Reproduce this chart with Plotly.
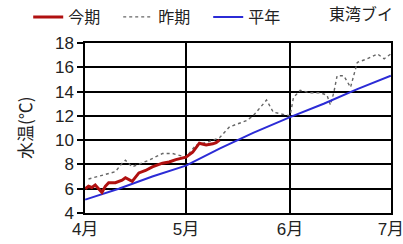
import plotly.graph_objects as go

# 今期 (current season)
cur_dates = ["2023-04-01", "2023-04-02", "2023-04-03", "2023-04-04", "2023-04-05", "2023-04-06",
             "2023-04-07", "2023-04-08", "2023-04-10", "2023-04-12", "2023-04-13", "2023-04-15",
             "2023-04-17", "2023-04-19", "2023-04-21", "2023-04-24", "2023-04-26", "2023-04-28",
             "2023-05-01", "2023-05-03", "2023-05-05", "2023-05-07", "2023-05-09", "2023-05-10",
             "2023-05-11"]
cur_vals = [6.0, 6.2, 6.1, 6.3, 6.0, 5.7,
            6.2, 6.5, 6.5, 6.7, 6.9, 6.6,
            7.3, 7.5, 7.8, 8.1, 8.2, 8.4,
            8.6, 9.0, 9.75, 9.6, 9.7, 9.8,
            10.0]

# 昨期 (previous season)
prev_dates = ["2023-04-02", "2023-04-06", "2023-04-10", "2023-04-12", "2023-04-13", "2023-04-15",
              "2023-04-20", "2023-04-24", "2023-04-27", "2023-05-01", "2023-05-04", "2023-05-07",
              "2023-05-11", "2023-05-14", "2023-05-19", "2023-05-21", "2023-05-25", "2023-05-27",
              "2023-06-01", "2023-06-02", "2023-06-04", "2023-06-07", "2023-06-10", "2023-06-12",
              "2023-06-13", "2023-06-14", "2023-06-15", "2023-06-17", "2023-06-19", "2023-06-21",
              "2023-06-24", "2023-06-27", "2023-06-29", "2023-07-01"]
prev_vals = [6.8, 7.1, 7.4, 8.1, 8.35, 7.8,
             8.35, 8.9, 8.9, 8.6, 9.6, 9.8,
             10.2, 11.1, 11.6, 12.0, 13.3, 12.3,
             12.0, 13.5, 14.1, 13.9, 13.9, 13.7,
             12.9, 13.9, 15.3, 15.3, 14.35, 16.4,
             16.7, 17.1, 16.7, 17.1]

# 平年 (normal)
norm_dates = ["2023-04-01", "2023-04-11", "2023-04-21", "2023-05-01", "2023-05-11", "2023-05-21",
              "2023-06-01", "2023-06-11", "2023-06-21", "2023-07-01"]
norm_vals = [5.1, 6.0, 7.0, 7.9, 9.3, 10.6, 11.9, 13.0, 14.2, 15.3]

x_tick_vals = ["2023-04-01", "2023-05-01", "2023-06-01", "2023-07-01"]
x_tick_text = ["4月", "5月", "6月", "7月"]
y_ticks = [4, 6, 8, 10, 12, 14, 16, 18]

FONT = "Liberation Sans, Noto Sans CJK JP, sans-serif"
CJK = "Noto Sans CJK JP, sans-serif"

fig = go.Figure()
fig.add_trace(go.Scatter(x=prev_dates, y=prev_vals, mode="lines", name="昨期", legendrank=2,
                         line=dict(color="#666666", width=1.4, dash="dot")))
fig.add_trace(go.Scatter(x=norm_dates, y=norm_vals, mode="lines", name="平年", legendrank=3,
                         line=dict(color="#2b2bd6", width=2)))
fig.add_trace(go.Scatter(x=cur_dates, y=cur_vals, mode="lines", name="今期", legendrank=1,
                         line=dict(color="#b01010", width=3)))

fig.update_layout(
    width=403, height=244,
    margin=dict(l=85, r=12, t=43, b=31, autoexpand=False),
    paper_bgcolor="white", plot_bgcolor="white",
    font=dict(family=FONT, size=17, color="#222222"),
    showlegend=True,
    legend=dict(orientation="h", xref="container", yref="container",
                x=0.07, y=1.0, xanchor="left", yanchor="top",
                font=dict(family=CJK, size=16, color="#222222"),
                entrywidth=45, entrywidthmode="pixels",
                tracegroupgap=0, bgcolor="rgba(0,0,0,0)"),
    xaxis=dict(type="date", range=["2023-03-31 23:00", "2023-07-01 01:00"],
               tickvals=x_tick_vals, ticktext=x_tick_text,
               showgrid=True, gridcolor="black", gridwidth=1.5,
               showline=True, linecolor="black", linewidth=1.5, mirror=True,
               ticks="", zeroline=False, ticklabeloverflow="allow",
               tickfont=dict(family=FONT, size=17)),
    yaxis=dict(range=[4, 18], tickvals=y_ticks,
               showgrid=True, gridcolor="black", gridwidth=1.5,
               showline=True, linecolor="black", linewidth=1.5, mirror=True,
               ticks="outside", ticklen=6, tickcolor="black", tickwidth=1.5,
               zeroline=False, tickfont=dict(family=FONT, size=17)),
    annotations=[
        dict(text="東湾ブイ", xref="paper", yref="paper", x=1.013, y=1.176,
             xanchor="right", yanchor="middle", showarrow=False,
             font=dict(family=CJK, size=16, color="#222222")),
        dict(text="水温(℃)", xref="paper", yref="paper", x=-0.199, y=0.5,
             xanchor="center", yanchor="middle", showarrow=False, textangle=-90,
             font=dict(family=CJK, size=17, color="#222222")),
    ],
)

fig.write_html("out.html", config={"displayModeBar": False},
               post_script="document.body.style.margin='0px';")
